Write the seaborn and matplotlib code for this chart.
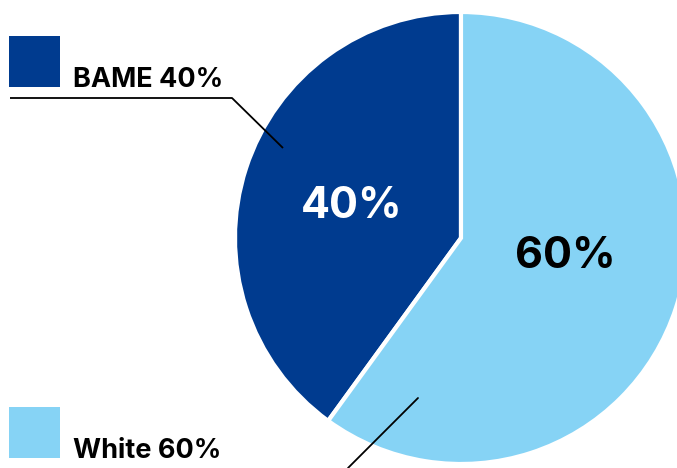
import matplotlib
matplotlib.use("Agg")
import matplotlib.pyplot as plt
import matplotlib.patches as mpatches
import seaborn as sns

# Ethnicity split
groups = ["BAME", "White"]
shares = [40, 60]
colors = ["#003B8F", "#86D3F5"]
inner_text_colors = ["white", "black"]

sns.set_theme(style="white")
plt.rcParams["font.family"] = ["Inter", "DejaVu Sans"]

W, H = 677, 468
fig = plt.figure(figsize=(W / 100, H / 100), dpi=100)
ax = fig.add_axes([0, 0, 1, 1])

cx, cy, r = 461, H - 238, 226
wedges, _ = ax.pie(
    shares, colors=colors, startangle=90, counterclock=True,
    center=(cx, cy), radius=r, frame=True,
    wedgeprops=dict(edgecolor="white", linewidth=3),
)
ax.set_xlim(0, W)
ax.set_ylim(0, H)
ax.set_aspect("equal")
ax.axis("off")

# Percentages inside the slices
label_pos = [(352, H - 206), (565, H - 257)]
for share, (x, y), c in zip(shares, label_pos, inner_text_colors):
    ax.text(x, y, f"{share}%", color=c, fontsize=31, fontweight="bold",
            ha="center", va="center")

# Legend keys with leader lines
key_tops = [36, 407]
for grp, share, col, top in zip(groups, shares, colors, key_tops):
    ax.add_patch(mpatches.Rectangle((9, H - top - 51), 51, 51, color=col, lw=0))
    ax.text(73, H - top - 51, f"{grp} {share}%", fontsize=19.5,
            fontweight="bold", color="black", ha="left", va="baseline")

ax.plot([10, 232, 283], [H - 98, H - 98, H - 148], color="black", lw=1.3,
        solid_capstyle="butt")
ax.plot([348, 418], [H - 468, H - 398], color="black", lw=1.3)

fig.savefig("out.png", dpi=100)
